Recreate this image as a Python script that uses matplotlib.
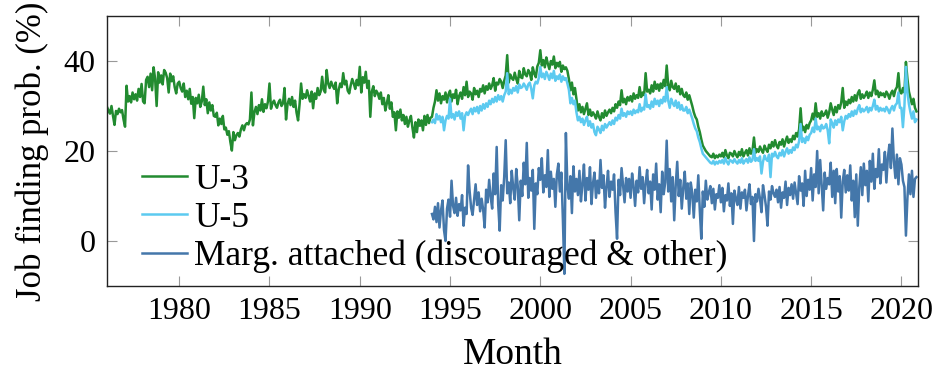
import numpy as np
import matplotlib.pyplot as plt

# monthly job finding probabilities (%)
u3_start = 1976
u3 = [
    29.8, 29.0, 28.3, 30.0, 27.8, 25.8, 28.9, 28.2, 29.4, 28.6, 29.1, 27.0,  # 1976
    25.4, 34.5, 31.0, 32.2, 30.8, 33.0, 31.5, 32.6, 31.2, 33.8, 32.0, 34.9,  # 1977
    31.0, 30.6, 35.8, 36.5, 34.2, 37.2, 33.5, 38.6, 36.0, 30.0, 37.5, 35.2,  # 1978
    36.8, 34.8, 38.0, 37.4, 36.2, 33.0, 37.2, 35.5, 36.6, 34.2, 32.8, 35.0,  # 1979
    35.4, 34.0, 33.2, 35.0, 32.0, 33.4, 31.5, 33.8, 30.5, 32.0, 27.3, 31.8,  # 1980
    30.6, 32.5, 29.8, 31.0, 34.3, 30.2, 31.5, 28.4, 30.8, 29.0, 30.2, 27.8,  # 1981
    27.6, 28.5, 25.7, 27.2, 26.0, 27.8, 24.8, 25.2, 23.6, 24.4, 22.0, 20.1,  # 1982
    24.2, 22.4, 23.5, 24.0, 23.2, 24.8, 25.7, 24.6, 25.8, 26.2, 25.9, 27.0,  # 1983
    33.0, 25.7, 28.6, 29.8, 28.2, 30.2, 29.0, 31.5, 28.7, 30.4, 29.5, 31.0,  # 1984
    35.0, 29.4, 30.6, 31.2, 30.2, 29.6, 30.8, 31.4, 30.0, 30.6, 34.0, 27.0,  # 1985
    30.4, 31.6, 30.2, 32.0, 29.8, 31.2, 28.5, 26.8, 30.4, 35.0, 31.6, 32.6,  # 1986
    31.8, 33.5, 32.2, 31.0, 33.2, 29.5, 32.8, 31.6, 34.0, 32.4, 33.2, 36.5,  # 1987
    33.6, 33.0, 38.0, 35.0, 34.0, 35.4, 34.5, 33.8, 35.2, 30.6, 33.6, 35.0,  # 1988
    34.2, 37.3, 34.8, 35.6, 33.4, 32.8, 34.6, 36.0, 35.0, 33.8, 35.8, 34.6,  # 1989
    38.7, 33.0, 36.4, 35.2, 37.6, 34.0, 35.6, 27.6, 33.2, 34.4, 32.2, 33.4,  # 1990
    32.8, 31.6, 33.0, 30.4, 31.8, 29.0, 30.6, 32.4, 29.4, 30.8, 27.6, 28.6,  # 1991
    24.6, 28.8, 27.4, 29.2, 26.8, 28.0, 26.0, 27.6, 25.4, 26.8, 27.8, 25.2,  # 1992
    23.0, 26.4, 24.2, 27.0, 25.6, 26.8, 24.6, 27.8, 25.8, 28.0, 26.2, 27.4,  # 1993
    27.6, 29.6, 31.0, 33.5, 31.2, 32.8, 30.6, 32.2, 31.4, 33.0, 30.8, 32.6,  # 1994
    33.4, 31.0, 32.6, 31.8, 33.6, 30.4, 32.2, 33.0, 31.6, 34.2, 32.4, 35.4,  # 1995
    32.0, 33.2, 32.8, 31.4, 34.0, 32.6, 33.4, 32.0, 33.8, 33.2, 34.6, 32.8,  # 1996
    34.4, 33.6, 35.0, 33.8, 34.6, 36.2, 33.4, 35.2, 34.8, 36.0, 35.4, 34.0,  # 1997
    35.6, 36.8, 41.3, 35.2, 37.0, 36.2, 35.8, 37.4, 36.0, 35.0, 37.8, 36.4,  # 1998
    36.2, 38.4, 37.0, 36.6, 38.0, 37.4, 35.8, 38.6, 37.2, 36.4, 38.8, 39.6,  # 1999
    42.4, 39.0, 40.2, 38.6, 40.8, 39.4, 38.2, 40.0, 39.2, 41.0, 38.4, 39.6,  # 2000
    38.8, 39.8, 37.6, 39.0, 38.2, 38.6, 37.8, 36.0, 33.5, 35.2, 32.6, 34.0,  # 2001
    31.6, 29.0, 30.4, 28.6, 29.8, 28.2, 29.4, 30.6, 28.0, 29.2, 27.8, 28.6,  # 2002
    28.0, 27.2, 28.8, 27.6, 26.8, 28.4, 27.4, 29.0, 27.8, 28.6, 29.2, 28.4,  # 2003
    29.6, 28.8, 30.4, 29.6, 31.0, 30.2, 33.5, 30.8, 31.6, 30.4, 32.0, 31.2,  # 2004
    32.2, 31.0, 32.8, 31.6, 32.4, 31.8, 34.2, 32.0, 33.0, 32.4, 37.3, 33.2,  # 2005
    33.6, 32.8, 34.6, 33.2, 35.4, 33.8, 34.8, 33.4, 35.0, 34.0, 35.8, 34.4,  # 2006
    39.0, 34.6, 33.5, 35.6, 34.2, 33.8, 35.0, 33.2, 34.4, 32.6, 33.8, 32.4,  # 2007
    32.0, 33.0, 31.4, 32.4, 31.2, 30.0, 28.6, 27.6, 27.0, 25.4, 24.2, 22.6,  # 2008
    21.2, 20.6, 20.0, 19.6, 19.2, 18.8, 18.6, 19.4, 18.4, 19.0, 18.6, 19.2,  # 2009
    18.8, 19.6, 18.6, 20.2, 19.0, 18.4, 19.6, 19.4, 18.8, 20.0, 19.2, 18.6,  # 2010
    19.8, 19.0, 20.4, 18.8, 19.6, 20.2, 19.0, 20.6, 19.4, 20.0, 23.0, 19.6,  # 2011
    20.4, 19.8, 21.0, 20.2, 19.6, 21.2, 20.4, 19.8, 21.4, 20.6, 22.0, 21.0,  # 2012
    22.4, 21.2, 20.6, 22.0, 21.4, 22.6, 21.0, 22.2, 23.2, 21.8, 22.6, 22.0,  # 2013
    23.4, 22.6, 24.0, 23.2, 24.8, 29.5, 24.6, 25.4, 24.2, 25.8, 25.0, 26.2,  # 2014
    26.8, 28.3, 27.0, 30.6, 27.6, 28.4, 27.2, 28.8, 27.8, 28.2, 29.0, 27.4,  # 2015
    28.6, 30.6, 29.2, 28.0, 29.8, 28.6, 30.2, 29.4, 30.8, 34.0, 29.6, 31.0,  # 2016
    30.2, 31.4, 30.6, 32.0, 31.0, 32.4, 31.2, 32.8, 33.5, 31.6, 32.6, 31.8,  # 2017
    32.4, 33.2, 31.8, 33.0, 32.2, 33.6, 35.7, 32.6, 33.4, 32.0, 33.0, 32.4,  # 2018
    32.8, 32.0, 33.2, 32.6, 31.6, 32.8, 33.4, 32.2, 33.6, 34.2, 37.3, 33.0,  # 2019
    32.8, 34.0, 33.0, 39.8, 36.0, 33.2, 31.8, 30.4, 31.6, 29.6, 28.8,        # 2020
]

u5_start = 1994
u5 = [
    26.4, 27.0, 26.2, 28.2, 27.0, 27.8, 26.4, 27.6, 24.6, 26.8, 27.8, 27.2,  # 1994
    31.6, 27.4, 28.2, 27.0, 28.6, 27.8, 28.8, 27.2, 28.4, 24.6, 27.8, 28.6,  # 1995
    28.0, 28.8, 29.4, 28.2, 29.6, 28.8, 29.8, 28.4, 30.0, 29.0, 30.4, 29.4,  # 1996
    30.6, 29.8, 31.2, 30.4, 31.6, 30.8, 32.0, 31.0, 32.4, 31.4, 32.2, 31.0,  # 1997
    32.4, 33.2, 37.3, 32.6, 33.6, 32.8, 34.0, 33.4, 34.4, 33.0, 34.8, 34.0,  # 1998
    34.2, 35.0, 34.4, 33.6, 34.8, 35.2, 33.8, 31.7, 34.6, 35.4, 35.0, 36.2,  # 1999
    38.7, 36.4, 37.2, 36.0, 37.6, 36.8, 35.8, 37.2, 36.2, 37.8, 35.6, 36.6,  # 2000
    36.0, 37.0, 35.4, 36.6, 35.8, 36.2, 35.0, 33.6, 30.6, 31.8, 30.4, 31.2,  # 2001
    28.6, 26.8, 27.6, 26.4, 27.2, 25.8, 26.8, 27.6, 25.6, 26.6, 25.2, 26.0,  # 2002
    24.2, 23.5, 25.4, 24.8, 24.0, 25.6, 24.6, 26.0, 25.2, 25.8, 26.4, 25.8,  # 2003
    26.8, 26.0, 27.4, 26.8, 28.0, 27.2, 29.4, 27.8, 28.4, 27.6, 28.8, 28.2,  # 2004
    28.8, 28.0, 29.2, 28.4, 29.0, 28.6, 30.4, 28.8, 29.6, 29.2, 32.6, 29.8,  # 2005
    30.2, 29.4, 31.0, 29.8, 31.6, 30.4, 31.2, 30.0, 31.4, 30.6, 32.0, 31.0,  # 2006
    34.2, 31.2, 29.6, 31.6, 30.6, 30.0, 31.2, 29.6, 30.8, 29.2, 30.2, 29.0,  # 2007
    29.0, 29.8, 28.4, 29.2, 28.2, 27.2, 26.0, 25.0, 24.4, 23.0, 22.0, 20.6,  # 2008
    19.4, 19.0, 18.6, 18.2, 17.8, 17.4, 17.2, 17.8, 17.0, 17.6, 17.2, 17.8,  # 2009
    17.4, 18.0, 17.2, 18.4, 17.6, 17.0, 18.0, 17.8, 17.4, 18.2, 17.6, 17.2,  # 2010
    18.0, 17.4, 18.4, 17.2, 17.8, 18.2, 17.4, 18.6, 17.6, 18.0, 20.4, 17.8,  # 2011
    18.4, 17.8, 18.8, 15.0, 17.6, 19.0, 18.2, 17.8, 19.2, 14.2, 19.4, 18.8,  # 2012
    19.8, 18.8, 18.4, 19.6, 19.0, 20.2, 18.8, 19.8, 20.6, 19.4, 20.2, 19.6,  # 2013
    20.8, 20.2, 21.4, 20.8, 22.2, 26.0, 22.0, 22.8, 21.8, 23.2, 22.4, 23.6,  # 2014
    24.0, 25.2, 24.2, 27.2, 24.8, 25.4, 24.4, 25.8, 25.0, 25.2, 26.0, 24.6,  # 2015
    21.7, 27.0, 26.2, 25.2, 26.8, 25.8, 27.0, 26.4, 27.6, 24.6, 26.6, 27.8,  # 2016
    27.2, 28.2, 27.6, 28.8, 27.8, 29.0, 28.2, 29.4, 30.2, 28.6, 29.4, 28.8,  # 2017
    29.2, 29.8, 28.6, 29.6, 29.0, 30.0, 31.4, 29.2, 30.0, 28.8, 29.6, 29.0,  # 2018
    29.4, 28.8, 29.8, 29.2, 28.4, 29.4, 30.0, 29.0, 30.2, 30.6, 33.0, 29.6,  # 2019
    29.6, 25.3, 30.0, 38.7, 33.0, 30.4, 28.6, 27.2, 28.8, 26.4, 27.0,        # 2020
]

marg_start = 1994
marg = [
    6.0, 4.8, 7.6, 4.2, 8.4, 3.0, 6.8, 9.0, 2.4, 0.0, 7.2, 9.2,  # 1994
    5.4, 13.4, 7.8, 6.2, 9.6, 5.6, 8.2, 6.8, 10.2, 3.4, 7.4, 6.0,  # 1995
    16.8, 11.2, 7.4, 5.8, 9.2, 12.6, 8.0, 10.8, 6.6, 9.4, 7.0, 3.0,  # 1996
    11.4, 8.6, 13.6, 9.8, 7.2, 15.0, 10.4, 20.9, 8.2, 2.3, 12.4, 9.0,  # 1997
    14.2, 22.4, 10.6, 13.0, 8.4, 15.6, 11.8, 9.2, 16.0, 12.2, 4.6, 13.4,  # 1998
    10.0, 17.4, 12.6, 21.8, 9.6, 14.0, 11.2, 15.8, 2.7, 12.8, 10.4, 16.2,  # 1999
    13.6, 18.4, 10.8, 14.6, 12.0, 20.2, 9.8, 15.4, 11.6, 13.8, 7.6, 14.8,  # 2000
    17.2, 11.0, 15.2, 4.8, -7.3, 24.0, 12.2, 9.4, 14.4, 6.2, 16.6, 11.0,  # 2001
    13.8, 10.2, 15.6, 8.8, 12.6, 17.0, 9.0, 14.0, 11.4, 16.4, 8.2, 12.8,  # 2002
    15.2, 9.6, 13.4, 10.6, 18.0, 11.8, 14.6, 7.4, 12.0, 15.6, 9.8, 13.2,  # 2003
    11.4, 14.8, 6.4, 0.5, 13.6, 10.2, 16.2, 12.4, 8.6, 14.0, 11.0, 13.8,  # 2004
    9.6, 15.0, 12.2, 7.8, 13.4, 10.8, 16.4, 11.6, 14.2, 8.4, 12.8, 15.8,  # 2005
    10.6, 13.2, 7.0, 14.8, 11.4, 17.2, 9.2, 12.6, 6.4, 15.4, 10.4, 13.0,  # 2006
    22.3, 11.0, 16.0, 8.8, 14.2, 4.6, 12.4, 17.6, 10.0, 13.6, 7.2, 11.8,  # 2007
    15.4, 9.4, 12.8, 6.0, 13.0, 10.6, 5.2, 11.4, 8.8, 14.6, 6.8, 0.5,  # 2008
    11.0, 7.6, 13.4, 9.2, 10.8, 12.2, 8.4, 11.6, 7.0, 10.4, 9.6, 12.4,  # 2009
    8.6, 11.8, 6.6, 10.2, 9.0, 12.8, 7.8, 10.6, 3.8, 11.2, 9.4, 8.0,  # 2010
    12.0, 7.2, 10.8, 9.6, 11.4, 6.8, 10.0, 12.6, 8.2, 9.8, 0.0, 10.4,  # 2011
    8.8, 11.6, 9.4, 6.4, 12.4, 10.2, 7.6, 3.4, 11.0, 9.2, 12.2, 10.6,  # 2012
    9.8, 11.4, 8.6, 12.0, 7.4, 10.8, 9.6, 13.2, 8.0, 11.8, 10.2, 12.6,  # 2013
    9.4, 13.0, 10.6, 8.2, 14.4, 11.2, 12.8, 7.8, 15.6, 10.0, 13.6, 11.4,  # 2014
    16.2, 9.0, 14.8, 12.0, 20.0, 10.6, 18.0, 12.4, 6.8, 15.2, 11.6, 14.0,  # 2015
    12.6, 17.4, 9.8, 15.6, 8.4, 16.0, 11.0, 14.4, 5.2, 13.2, 15.8, 10.8,  # 2016
    14.6, 11.2, 16.8, 9.0, 13.4, 5.3, 14.8, 3.4, 12.0, 16.4, 10.2, 17.2,  # 2017
    12.4, 15.6, 8.8, 17.8, 13.2, 19.4, 11.6, 16.0, 14.2, 20.4, 12.8, 17.0,  # 2018
    15.8, 19.8, 13.0, 18.6, 21.4, 16.2, 25.0, 17.8, 14.0, 19.2, 12.6, 18.4,  # 2019
    17.0, 13.4, 12.0, 1.2, 9.6, 14.8, 10.4, 15.6, 9.8, 13.8, 14.2,        # 2020
]

xticks = [1980, 1985, 1990, 1995, 2000, 2005, 2010, 2015, 2020]
yticks = [0, 20, 40]


def months(start, n):
    return start + np.arange(n) / 12


plt.rcParams['font.family'] = ['Liberation Serif', 'DejaVu Serif']

fig = plt.figure(figsize=(9.36, 3.74), dpi=100)
ax = fig.add_axes([0.1143, 0.2353, 0.8665, 0.7219])

ax.plot(months(u3_start, len(u3)), u3, color='#228b30', lw=1.8, label='U-3')
ax.plot(months(u5_start, len(u5)), u5, color='#5ccaf0', lw=1.8, label='U-5')
ax.plot(months(marg_start, len(marg)), marg, color='#4477aa', lw=1.8,
        label='Marg. attached (discouraged & other)')

ax.set_xlim(1976, 2020.92)
ax.set_ylim(-10, 50)
ax.set_xticks(xticks)
ax.set_yticks(yticks)
ax.tick_params(direction='in', length=7.5, width=0.8, color='#999999',
               top=True, right=True, labelsize=23, pad=8)
for s in ax.spines.values():
    s.set_linewidth(1.0)
    s.set_color('#222222')

ax.set_xlabel('Month', fontsize=27)
ax.xaxis.set_label_coords(0.5, -0.19)
ax.set_ylabel('Job finding prob. (%)', fontsize=25)
ax.yaxis.set_label_coords(-0.072, 0.5)

ax.legend(loc='lower left', bbox_to_anchor=(0.043, 0.048), frameon=False,
          fontsize=25.5, handlelength=1.27, handletextpad=0.2,
          labelspacing=0.14, borderpad=0, borderaxespad=0)

fig.savefig('out.png', dpi=100)
